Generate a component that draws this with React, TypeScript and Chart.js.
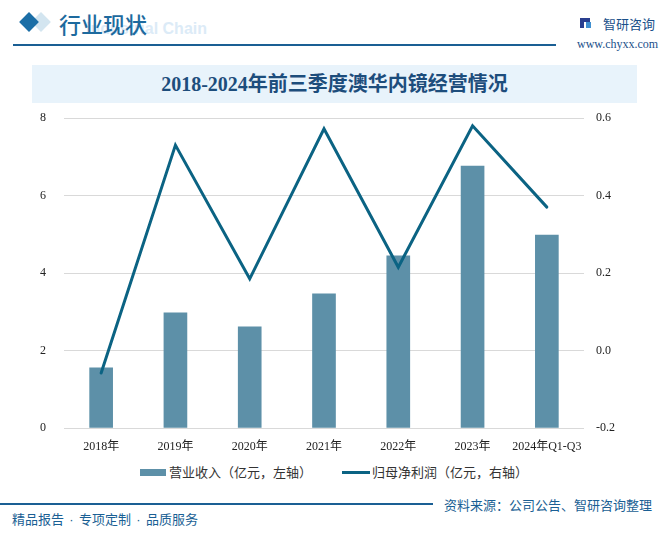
import React, { useEffect, useRef } from "react";
import { Chart, registerables } from "chart.js";

Chart.register(...registerables);

const categories = ["2018年", "2019年", "2020年", "2021年", "2022年", "2023年", "2024年Q1-Q3"];
const revenue = [1.55, 2.97, 2.61, 3.46, 4.44, 6.76, 4.98];
const netProfit = [-0.058, 0.53, 0.185, 0.572, 0.215, 0.58, 0.37];
const leftTicks = [0, 2, 4, 6, 8];
const rightTicks = [-0.2, 0, 0.2, 0.4, 0.6];

const BAR_COLOR = "#5d90a8";
const LINE_COLOR = "#0b6383";
const BLUE = "#1a5f94";
const CJK = '"Noto Sans CJK SC", "Noto Sans", sans-serif';
const SERIF = '"Liberation Serif", "Noto Sans CJK SC", serif';

export default function App() {
  const canvasRef = useRef<HTMLCanvasElement | null>(null);

  useEffect(() => {
    if (!canvasRef.current) return;
    const chart = new Chart(canvasRef.current, {
      type: "bar",
      data: {
        labels: categories,
        datasets: [
          {
            type: "line",
            label: "归母净利润（亿元，右轴）",
            data: netProfit,
            yAxisID: "y1",
            borderColor: LINE_COLOR,
            backgroundColor: LINE_COLOR,
            borderWidth: 3,
            pointRadius: 0,
            pointHoverRadius: 0,
            tension: 0,
            borderCapStyle: "round",
            borderJoinStyle: "miter",
            order: 0,
          },
          {
            type: "bar",
            label: "营业收入（亿元，左轴）",
            data: revenue,
            yAxisID: "y",
            backgroundColor: BAR_COLOR,
            barThickness: 23,
            order: 1,
          },
        ],
      },
      options: {
        animation: false,
        responsive: false,
        maintainAspectRatio: false,
        layout: { padding: { left: 0, right: 0, top: 18, bottom: 0 } },
        plugins: {
          legend: { display: false },
          tooltip: { enabled: false },
        },
        scales: {
          x: {
            grid: { display: false, drawTicks: false },
            border: { display: false },
            ticks: {
              color: "#222",
              font: { family: SERIF, size: 12 },
              padding: 12,
              maxRotation: 0,
              autoSkip: false,
            },
            afterFit: (s: any) => {
              s.height = 32;
              s.paddingLeft = 0;
              s.paddingRight = 0;
            },
          },
          y: {
            position: "left",
            min: 0,
            max: 8,
            afterBuildTicks: (s: any) => {
              s.ticks = leftTicks.map((v) => ({ value: v }));
            },
            grid: { color: "#d9d9d9", lineWidth: 1, drawTicks: false },
            border: { display: false },
            ticks: {
              color: "#222",
              font: { family: SERIF, size: 12 },
              padding: 18,
              callback: (v: any) => String(v),
            },
            afterFit: (s: any) => {
              s.width = 64;
              s.paddingTop = 0;
              s.paddingBottom = 0;
            },
          },
          y1: {
            position: "right",
            min: -0.2,
            max: 0.6,
            afterBuildTicks: (s: any) => {
              s.ticks = rightTicks.map((v) => ({ value: v }));
            },
            grid: { drawOnChartArea: false, drawTicks: false },
            border: { display: false },
            ticks: {
              color: "#222",
              font: { family: SERIF, size: 12 },
              padding: 12,
              callback: (v: any) => Number(v).toFixed(1),
            },
            afterFit: (s: any) => {
              s.width = 82;
              s.paddingTop = 0;
              s.paddingBottom = 0;
            },
          },
        },
      },
    });
    return () => chart.destroy();
  }, []);

  const abs = (o: React.CSSProperties): React.CSSProperties => ({ position: "absolute", ...o });
  const dot = (
    <span style={{ display: "inline-block", width: 15, textAlign: "center", fontFamily: '"Liberation Sans", sans-serif' }}>·</span>
  );

  return (
    <div style={abs({ left: 0, top: 0, width: 666, height: 533, overflow: "hidden", background: "#fff", fontFamily: CJK })}>
      {/* header */}
      <div style={abs({ left: 34, top: 15, width: 14, height: 14, background: "#d3e5f0", transform: "rotate(45deg)" })} />
      <div style={abs({ left: 22, top: 15, width: 14, height: 14, background: "#1b6ea6", transform: "rotate(45deg)" })} />
      <div style={abs({ right: 459, top: 19, fontFamily: '"Liberation Sans", Arial, sans-serif', fontWeight: 700, fontSize: 16, lineHeight: "20px", color: "#dcebf7", whiteSpace: "nowrap" })}>Industrial Chain</div>
      <div style={abs({ left: 59, top: 8, fontSize: 22, lineHeight: "30px", color: "#1d6a9e", fontWeight: 500, whiteSpace: "nowrap" })}>行业现状</div>
      <div style={abs({ left: 13, top: 44, width: 543, height: 2, background: BLUE })} />
      {/* logo */}
      <div style={abs({ left: 580, top: 18, width: 4, height: 10, background: "#2a3f8f" })} />
      <div style={abs({ left: 584, top: 18, width: 6, height: 4, background: "#2a3f8f" })} />
      <div style={abs({ left: 586, top: 22, width: 5, height: 6, background: "#3f8fd0" })} />
      <div style={abs({ left: 603, top: 15, fontSize: 13, lineHeight: "18px", color: "#1a4f8a", whiteSpace: "nowrap" })}>智研咨询</div>
      <div style={abs({ left: 577, top: 37, fontFamily: SERIF, fontSize: 12, lineHeight: "14px", color: "#1a4f8a", whiteSpace: "nowrap" })}>www.chyxx.com</div>
      {/* title band */}
      <div style={abs({ left: 32, top: 65, width: 605, height: 38, background: "#e8f3fb" })} />
      <div style={abs({ left: 32, top: 65, width: 605, height: 38, lineHeight: "38px", textAlign: "center", fontFamily: SERIF, fontWeight: 700, fontSize: 20, color: "#1d4d7c", whiteSpace: "nowrap" })}>2018-2024年前三季度澳华内镜经营情况</div>
      {/* chart */}
      <canvas ref={canvasRef} width={666} height={360} style={abs({ left: 0, top: 100, width: 666, height: 360 })} />
      {/* legend */}
      <div style={abs({ left: 140, top: 469, width: 26, height: 7, background: BAR_COLOR })} />
      <div style={abs({ left: 169, top: 463, fontSize: 13, lineHeight: "18px", color: "#333", whiteSpace: "nowrap" })}>营业收入（亿元，左轴）</div>
      <div style={abs({ left: 342, top: 471, width: 28, height: 3, background: LINE_COLOR })} />
      <div style={abs({ left: 372, top: 463, fontSize: 13, lineHeight: "18px", color: "#333", whiteSpace: "nowrap" })}>归母净利润（亿元，右轴）</div>
      {/* footer */}
      <div style={abs({ left: 0, top: 503, width: 433, height: 2, background: BLUE })} />
      <div style={abs({ left: 444, top: 496, fontSize: 13, lineHeight: "18px", color: BLUE, whiteSpace: "nowrap" })}>资料来源：公司公告、智研咨询整理</div>
      <div style={abs({ left: 12, top: 510, fontSize: 13, lineHeight: "18px", color: BLUE, whiteSpace: "nowrap" })}>
        精品报告{dot}专项定制{dot}品质服务
      </div>
    </div>
  );
}
